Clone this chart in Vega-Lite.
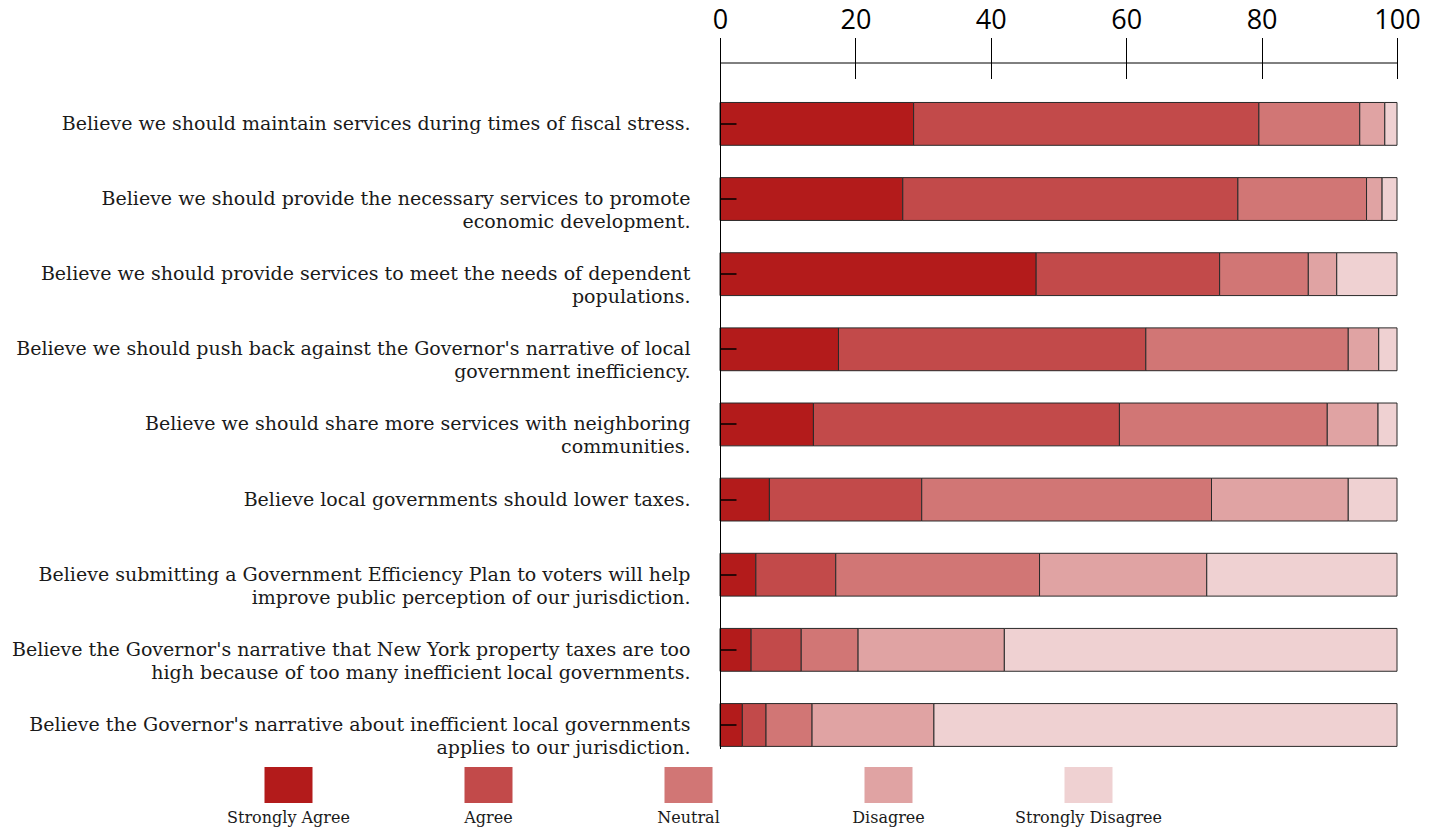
{
  "$schema": "https://vega.github.io/schema/vega-lite/v6.json",
  "padding": {"left": 8, "top": 6.5, "right": 5, "bottom": 0},
  "background": "white",
  "config": {"view": {"stroke": null}},
  "datasets": {
    "survey": [
      {"statement": "Believe we should maintain services during times of fiscal stress.", "response": "Strongly Agree", "pct": 28.6},
      {"statement": "Believe we should maintain services during times of fiscal stress.", "response": "Agree", "pct": 51.0},
      {"statement": "Believe we should maintain services during times of fiscal stress.", "response": "Neutral", "pct": 14.9},
      {"statement": "Believe we should maintain services during times of fiscal stress.", "response": "Disagree", "pct": 3.7},
      {"statement": "Believe we should maintain services during times of fiscal stress.", "response": "Strongly Disagree", "pct": 1.8},
      {"statement": "Believe we should provide the necessary services to promote\neconomic development.", "response": "Strongly Agree", "pct": 27.0},
      {"statement": "Believe we should provide the necessary services to promote\neconomic development.", "response": "Agree", "pct": 49.5},
      {"statement": "Believe we should provide the necessary services to promote\neconomic development.", "response": "Neutral", "pct": 19.0},
      {"statement": "Believe we should provide the necessary services to promote\neconomic development.", "response": "Disagree", "pct": 2.3},
      {"statement": "Believe we should provide the necessary services to promote\neconomic development.", "response": "Strongly Disagree", "pct": 2.2},
      {"statement": "Believe we should provide services to meet the needs of dependent\npopulations.", "response": "Strongly Agree", "pct": 46.7},
      {"statement": "Believe we should provide services to meet the needs of dependent\npopulations.", "response": "Agree", "pct": 27.1},
      {"statement": "Believe we should provide services to meet the needs of dependent\npopulations.", "response": "Neutral", "pct": 13.1},
      {"statement": "Believe we should provide services to meet the needs of dependent\npopulations.", "response": "Disagree", "pct": 4.2},
      {"statement": "Believe we should provide services to meet the needs of dependent\npopulations.", "response": "Strongly Disagree", "pct": 8.9},
      {"statement": "Believe we should push back against the Governor's narrative of local\ngovernment inefficiency.", "response": "Strongly Agree", "pct": 17.5},
      {"statement": "Believe we should push back against the Governor's narrative of local\ngovernment inefficiency.", "response": "Agree", "pct": 45.4},
      {"statement": "Believe we should push back against the Governor's narrative of local\ngovernment inefficiency.", "response": "Neutral", "pct": 29.9},
      {"statement": "Believe we should push back against the Governor's narrative of local\ngovernment inefficiency.", "response": "Disagree", "pct": 4.5},
      {"statement": "Believe we should push back against the Governor's narrative of local\ngovernment inefficiency.", "response": "Strongly Disagree", "pct": 2.7},
      {"statement": "Believe we should share more services with neighboring\ncommunities.", "response": "Strongly Agree", "pct": 13.8},
      {"statement": "Believe we should share more services with neighboring\ncommunities.", "response": "Agree", "pct": 45.2},
      {"statement": "Believe we should share more services with neighboring\ncommunities.", "response": "Neutral", "pct": 30.7},
      {"statement": "Believe we should share more services with neighboring\ncommunities.", "response": "Disagree", "pct": 7.5},
      {"statement": "Believe we should share more services with neighboring\ncommunities.", "response": "Strongly Disagree", "pct": 2.8},
      {"statement": "Believe local governments should lower taxes.", "response": "Strongly Agree", "pct": 7.3},
      {"statement": "Believe local governments should lower taxes.", "response": "Agree", "pct": 22.5},
      {"statement": "Believe local governments should lower taxes.", "response": "Neutral", "pct": 42.8},
      {"statement": "Believe local governments should lower taxes.", "response": "Disagree", "pct": 20.2},
      {"statement": "Believe local governments should lower taxes.", "response": "Strongly Disagree", "pct": 7.2},
      {"statement": "Believe submitting a Government Efficiency Plan to voters will help\nimprove public perception of our jurisdiction.", "response": "Strongly Agree", "pct": 5.3},
      {"statement": "Believe submitting a Government Efficiency Plan to voters will help\nimprove public perception of our jurisdiction.", "response": "Agree", "pct": 11.8},
      {"statement": "Believe submitting a Government Efficiency Plan to voters will help\nimprove public perception of our jurisdiction.", "response": "Neutral", "pct": 30.1},
      {"statement": "Believe submitting a Government Efficiency Plan to voters will help\nimprove public perception of our jurisdiction.", "response": "Disagree", "pct": 24.7},
      {"statement": "Believe submitting a Government Efficiency Plan to voters will help\nimprove public perception of our jurisdiction.", "response": "Strongly Disagree", "pct": 28.1},
      {"statement": "Believe the Governor's narrative that New York property taxes are too\nhigh because of too many inefficient local governments.", "response": "Strongly Agree", "pct": 4.6},
      {"statement": "Believe the Governor's narrative that New York property taxes are too\nhigh because of too many inefficient local governments.", "response": "Agree", "pct": 7.4},
      {"statement": "Believe the Governor's narrative that New York property taxes are too\nhigh because of too many inefficient local governments.", "response": "Neutral", "pct": 8.4},
      {"statement": "Believe the Governor's narrative that New York property taxes are too\nhigh because of too many inefficient local governments.", "response": "Disagree", "pct": 21.6},
      {"statement": "Believe the Governor's narrative that New York property taxes are too\nhigh because of too many inefficient local governments.", "response": "Strongly Disagree", "pct": 58.0},
      {"statement": "Believe the Governor's narrative about inefficient local governments\napplies to our jurisdiction.", "response": "Strongly Agree", "pct": 3.3},
      {"statement": "Believe the Governor's narrative about inefficient local governments\napplies to our jurisdiction.", "response": "Agree", "pct": 3.5},
      {"statement": "Believe the Governor's narrative about inefficient local governments\napplies to our jurisdiction.", "response": "Neutral", "pct": 6.8},
      {"statement": "Believe the Governor's narrative about inefficient local governments\napplies to our jurisdiction.", "response": "Disagree", "pct": 18.0},
      {"statement": "Believe the Governor's narrative about inefficient local governments\napplies to our jurisdiction.", "response": "Strongly Disagree", "pct": 68.4}
    ],
    "responses": [
      {"response": "Strongly Agree"},
      {"response": "Agree"},
      {"response": "Neutral"},
      {"response": "Disagree"},
      {"response": "Strongly Disagree"}
    ]
  },
  "spacing": 9.5,
  "vconcat": [
    {
      "width": 677,
      "height": 686,
      "data": {"name": "survey"},
      "transform": [
        {"calculate": "indexof(['Strongly Agree','Agree','Neutral','Disagree','Strongly Disagree'], datum.response)", "as": "rank"}
      ],
      "mark": {"type": "bar", "stroke": "#2a2a2a", "strokeWidth": 1},
      "encoding": {
        "y": {
          "field": "statement", "type": "nominal", "sort": null, "title": null,
          "scale": {"paddingInner": 0.43, "paddingOuter": 0.28, "align": 0.95},
          "axis": {
            "orient": "left", "zindex": 1, "minExtent": 711.5,
            "domainColor": "black", "domainWidth": 1,
            "tickColor": "black", "tickSize": -16, "tickWidth": 1.5,
            "labelPadding": 46, "labelFont": "DejaVu Serif", "labelFontSize": 19,
            "labelColor": "#1a1a1a", "labelLineHeight": 23, "labelLimit": 900,
            "labelExpr": "split(datum.label, '\\n')"
          }
        },
        "x": {
          "field": "pct", "type": "quantitative", "stack": "zero", "title": null,
          "scale": {"domain": [0, 100], "nice": false},
          "axis": {
            "orient": "top", "values": [0, 20, 40, 60, 80, 100],
            "tickSize": 25, "tickColor": "black", "tickWidth": 1,
            "domainColor": "black", "domainWidth": 1,
            "grid": true, "gridColor": "black", "gridDash": [16, 3000], "gridWidth": 1, "gridOpacity": 1,
            "labelFont": "Open Sans", "labelFontSize": 27, "labelColor": "black",
            "labelPadding": 3, "labelFlush": false
          }
        },
        "color": {
          "field": "response", "type": "nominal",
          "scale": {
            "domain": ["Strongly Agree", "Agree", "Neutral", "Disagree", "Strongly Disagree"],
            "range": ["#b31b1b", "#c24a4a", "#d17675", "#e0a3a3", "#efd1d2"]
          },
          "legend": null
        },
        "order": {"field": "rank", "type": "quantitative"}
      }
    },
    {
      "width": 468,
      "height": 36,
      "data": {"name": "responses"},
      "encoding": {
        "x": {
          "field": "response", "type": "nominal", "sort": null,
          "scale": {"range": [-531.5, 468.5], "paddingInner": 0, "paddingOuter": 0},
          "axis": null
        }
      },
      "layer": [
        {
          "mark": {"type": "bar", "width": {"band": 0.24}},
          "encoding": {
            "color": {
              "field": "response", "type": "nominal",
              "scale": {
                "domain": ["Strongly Agree", "Agree", "Neutral", "Disagree", "Strongly Disagree"],
                "range": ["#b31b1b", "#c24a4a", "#d17675", "#e0a3a3", "#efd1d2"]
              },
              "legend": null
            }
          }
        },
        {
          "mark": {"type": "text", "baseline": "top", "dy": 25, "font": "DejaVu Serif", "fontSize": 16, "color": "#1a1a1a"},
          "encoding": {"text": {"field": "response"}}
        }
      ]
    }
  ]
}
